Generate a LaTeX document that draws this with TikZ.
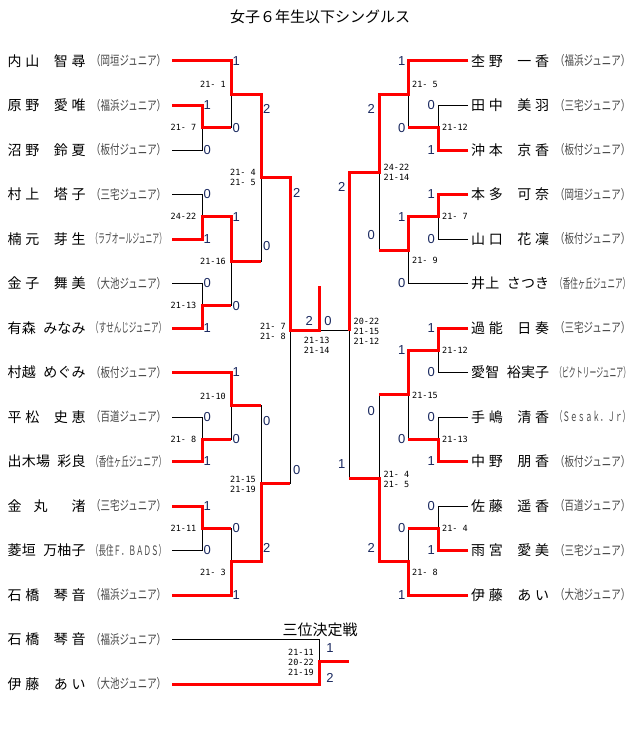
\documentclass[tikz,border=0pt]{standalone}
\usepackage{fontspec}
\usepackage{graphicx}
\setmainfont{Liberation Sans}
\newfontfamily\jpfont{Noto Sans CJK JP}
\newfontfamily\scfont{DejaVu Sans Mono}
\definecolor{scorecol}{RGB}{25,40,95}
\definecolor{clubcol}{RGB}{70,70,70}
\definecolor{winred}{RGB}{255,0,0}
\newcommand\nmgap{\hfill\hspace{7pt}\hfill}
\newcommand\clubbox[1]{\resizebox{75pt}{\height}{#1}}
\newcommand\plbox[1]{\makebox[78pt][s]{#1}}
\tikzset{
  plname/.style={anchor=west,inner sep=0pt,font=\jpfont\fontsize{14}{14}\selectfont},
  clubl/.style={anchor=west,inner sep=0pt,text=clubcol,font=\jpfont\fontsize{13}{13}\selectfont},
  ptl/.style={anchor=west,inner sep=0pt,text=scorecol,font=\fontsize{13}{13}\selectfont},
  ptr/.style={ptl,anchor=east},
  ptc/.style={ptl,anchor=center},
  gsl/.style={anchor=west,inner sep=0pt,align=left,font=\scfont\fontsize{8.5}{10}\selectfont},
  gsr/.style={gsl,anchor=east,align=right},
  gsc/.style={gsl,anchor=center,align=center},
  lose/.style={line width=0.9pt,black},
  win/.style={line width=3pt,winred},
  heading/.style={inner sep=0pt,font=\jpfont\fontsize{15}{15}\selectfont}
}
\begin{document}
\begin{tikzpicture}[x=1pt,y=-1pt]
\fill[white] (0,0) rectangle (640,741);
\useasboundingbox (0,0) rectangle (640,741);

\node[heading] (title) at (320,17) {女子６年生以下シングルス};

% row coordinates
\foreach \i/\y in {1/61,2/105.5,3/150,4/194.5,5/239,6/283.5,7/328,8/372.5,9/417,10/461.5,11/506,12/550.5,13/595}{
  \coordinate (L\i) at (172,\y);
  \coordinate (R\i) at (468,\y);
}
\coordinate (T1) at (172,639.5);
\coordinate (T2) at (172,684);

% match points left
\coordinate (LA) at (202,127.75);
\coordinate (LB) at (231,94.4);
\coordinate (LC) at (202,216.75);
\coordinate (LD) at (202,305.75);
\coordinate (LE) at (231,261.25);
\coordinate (LF) at (261,177.8);
\coordinate (LG) at (202,439.25);
\coordinate (LH) at (231,405.9);
\coordinate (LI) at (202,528.25);
\coordinate (LJ) at (231,561.6);
\coordinate (LK) at (261,483.75);
\coordinate (LL) at (290,330.8);
\coordinate (FN) at (319,330.8);
\coordinate (FT) at (319,286);
% match points right
\coordinate (RA) at (438,127.75);
\coordinate (RB) at (408,94.4);
\coordinate (RC) at (438,216.75);
\coordinate (RD) at (408,250.1);
\coordinate (RE) at (379,172.25);
\coordinate (RF) at (438,350.25);
\coordinate (RG) at (438,439.25);
\coordinate (RH) at (408,394.75);
\coordinate (RI) at (438,528.25);
\coordinate (RJ) at (408,561.6);
\coordinate (RK) at (379,478.2);
\coordinate (RL) at (349,330.8);
% third place
\coordinate (TM) at (319,661.75);
\coordinate (TE) at (349,661.75);

% black bracket lines
\draw[lose] (L1)-|(LB) (L2)-|(LA) (L3)-|(LA) (LA)-|(LB)
  (L4)-|(LC) (L5)-|(LC) (L6)-|(LD) (L7)-|(LD) (LC)-|(LE) (LD)-|(LE)
  (LB)-|(LF) (LE)-|(LF)
  (L8)-|(LH) (L9)-|(LG) (L10)-|(LG) (LG)-|(LH)
  (L11)-|(LI) (L12)-|(LI) (LI)-|(LJ) (L13)-|(LJ)
  (LH)-|(LK) (LJ)-|(LK) (LF)-|(LL) (LK)-|(LL) (LL)--(FN);
\draw[lose] (R1)-|(RB) (R2)-|(RA) (R3)-|(RA) (RA)-|(RB)
  (R4)-|(RC) (R5)-|(RC) (RC)-|(RD) (R6)-|(RD)
  (RB)-|(RE) (RD)-|(RE)
  (R7)-|(RF) (R8)-|(RF) (R9)-|(RG) (R10)-|(RG) (RF)-|(RH) (RG)-|(RH)
  (R11)-|(RI) (R12)-|(RI) (RI)-|(RJ) (R13)-|(RJ)
  (RH)-|(RK) (RJ)-|(RK) (RE)-|(RL) (RK)-|(RL) (RL)--(FN);
\draw[lose] (T1)-|(TM) (T2)-|(TM);

% red winner paths
\draw[win] (L1)-|(LB)-|(LF)-|(LL)--(FN)--(FT);
\draw[win] (L2)-|(LA)--(LA-|LB);
\draw[win] (L5)-|(LC)-|(LE)--(LE-|LF);
\draw[win] (L7)-|(LD)--(LD-|LE);
\draw[win] (L8)-|(LH)--(LH-|LK);
\draw[win] (L10)-|(LG)--(LG-|LH);
\draw[win] (L11)-|(LI)--(LI-|LJ);
\draw[win] (L13)-|(LJ)-|(LK)--(LK-|LL);
\draw[win] (R1)-|(RB)-|(RE)-|(RL);
\draw[win] (R3)-|(RA)--(RA-|RB);
\draw[win] (R4)-|(RC)-|(RD)--(RD-|RE);
\draw[win] (R7)-|(RF)-|(RH)--(RH-|RK);
\draw[win] (R10)-|(RG)--(RG-|RH);
\draw[win] (R12)-|(RI)--(RI-|RJ);
\draw[win] (R13)-|(RJ)-|(RK)--(RK-|RL);
\draw[win] (T2)-|(TM)--(TE);

% left names
\node[plname] (nL1) at (7.5,61) {\plbox{内\hfill{}山\nmgap{}智\hfill{}尋}};
\node[plname] (nL2) at (7.5,105.5) {\plbox{原\hfill{}野\nmgap{}愛\hfill{}唯}};
\node[plname] (nL3) at (7.5,150) {\plbox{沼\hfill{}野\nmgap{}鈴\hfill{}夏}};
\node[plname] (nL4) at (7.5,194.5) {\plbox{村\hfill{}上\nmgap{}塔\hfill{}子}};
\node[plname] (nL5) at (7.5,239) {\plbox{楠\hfill{}元\nmgap{}芽\hfill{}生}};
\node[plname] (nL6) at (7.5,283.5) {\plbox{金\hfill{}子\nmgap{}舞\hfill{}美}};
\node[plname] (nL7) at (7.5,328) {\plbox{有\hfill{}森\nmgap{}み\hfill{}な\hfill{}み}};
\node[plname] (nL8) at (7.5,372.5) {\plbox{村\hfill{}越\nmgap{}め\hfill{}ぐ\hfill{}み}};
\node[plname] (nL9) at (7.5,417) {\plbox{平\hfill{}松\nmgap{}史\hfill{}恵}};
\node[plname] (nL10) at (7.5,461.5) {\plbox{出\hfill{}木\hfill{}場\nmgap{}彩\hfill{}良}};
\node[plname] (nL11) at (7.5,506) {\plbox{金\hfill\hfill{}丸\hfill\hfill\hfill\hfill{}渚}};
\node[plname] (nL12) at (7.5,550.5) {\plbox{菱\hfill{}垣\nmgap{}万\hfill{}柚\hfill{}子}};
\node[plname] (nL13) at (7.5,595) {\plbox{石\hfill{}橋\nmgap{}琴\hfill{}音}};
\node[plname] (nT1) at (7.5,639.5) {\plbox{石\hfill{}橋\nmgap{}琴\hfill{}音}};
\node[plname] (nT2) at (7.5,684) {\plbox{伊\hfill{}藤\nmgap{}あ\hfill{}い}};
% left clubs
\node[clubl] (cL1) at (91,61) {\clubbox{（岡垣ジュニア）}};
\node[clubl] (cL2) at (91,105.5) {\clubbox{（福浜ジュニア）}};
\node[clubl] (cL3) at (91,150) {\clubbox{（板付ジュニア）}};
\node[clubl] (cL4) at (91,194.5) {\clubbox{（三宅ジュニア）}};
\node[clubl] (cL5) at (91,239) {\clubbox{（ラブオールジュニア）}};
\node[clubl] (cL6) at (91,283.5) {\clubbox{（大池ジュニア）}};
\node[clubl] (cL7) at (91,328) {\clubbox{（すせんじジュニア）}};
\node[clubl] (cL8) at (91,372.5) {\clubbox{（板付ジュニア）}};
\node[clubl] (cL9) at (91,417) {\clubbox{（百道ジュニア）}};
\node[clubl] (cL10) at (91,461.5) {\clubbox{（香住ヶ丘ジュニア）}};
\node[clubl] (cL11) at (91,506) {\clubbox{（三宅ジュニア）}};
\node[clubl] (cL12) at (91,550.5) {\clubbox{（長住Ｆ．ＢＡＤＳ）}};
\node[clubl] (cL13) at (91,595) {\clubbox{（福浜ジュニア）}};
\node[clubl] (cT1) at (91,639.5) {\clubbox{（福浜ジュニア）}};
\node[clubl] (cT2) at (91,684) {\clubbox{（大池ジュニア）}};

% right names
\node[plname] (nR1) at (471,61) {\plbox{杢\hfill{}野\nmgap{}一\hfill{}香}};
\node[plname] (nR2) at (471,105.5) {\plbox{田\hfill{}中\nmgap{}美\hfill{}羽}};
\node[plname] (nR3) at (471,150) {\plbox{沖\hfill{}本\nmgap{}京\hfill{}香}};
\node[plname] (nR4) at (471,194.5) {\plbox{本\hfill{}多\nmgap{}可\hfill{}奈}};
\node[plname] (nR5) at (471,239) {\plbox{山\hfill{}口\nmgap{}花\hfill{}凜}};
\node[plname] (nR6) at (471,283.5) {\plbox{井\hfill{}上\nmgap{}さ\hfill{}つ\hfill{}き}};
\node[plname] (nR7) at (471,328) {\plbox{過\hfill{}能\nmgap{}日\hfill{}奏}};
\node[plname] (nR8) at (471,372.5) {\plbox{愛\hfill{}智\nmgap{}裕\hfill{}実\hfill{}子}};
\node[plname] (nR9) at (471,417) {\plbox{手\hfill{}嶋\nmgap{}清\hfill{}香}};
\node[plname] (nR10) at (471,461.5) {\plbox{中\hfill{}野\nmgap{}朋\hfill{}香}};
\node[plname] (nR11) at (471,506) {\plbox{佐\hfill{}藤\nmgap{}遥\hfill{}香}};
\node[plname] (nR12) at (471,550.5) {\plbox{雨\hfill{}宮\nmgap{}愛\hfill{}美}};
\node[plname] (nR13) at (471,595) {\plbox{伊\hfill{}藤\nmgap{}あ\hfill{}い}};
% right clubs
\node[clubl] (cR1) at (555,61) {\clubbox{（福浜ジュニア）}};
\node[clubl] (cR2) at (555,105.5) {\clubbox{（三宅ジュニア）}};
\node[clubl] (cR3) at (555,150) {\clubbox{（板付ジュニア）}};
\node[clubl] (cR4) at (555,194.5) {\clubbox{（岡垣ジュニア）}};
\node[clubl] (cR5) at (555,239) {\clubbox{（板付ジュニア）}};
\node[clubl] (cR6) at (555,283.5) {\clubbox{（香住ヶ丘ジュニア）}};
\node[clubl] (cR7) at (555,328) {\clubbox{（三宅ジュニア）}};
\node[clubl] (cR8) at (555,372.5) {\clubbox{（ビクトリージュニア）}};
\node[clubl] (cR9) at (555,417) {\clubbox{（Ｓｅｓａｋ．Ｊｒ）}};
\node[clubl] (cR10) at (555,461.5) {\clubbox{（板付ジュニア）}};
\node[clubl] (cR11) at (555,506) {\clubbox{（百道ジュニア）}};
\node[clubl] (cR12) at (555,550.5) {\clubbox{（三宅ジュニア）}};
\node[clubl] (cR13) at (555,595) {\clubbox{（大池ジュニア）}};

% left game points
\node[ptl] (pLA1) at (203.5,105.5) {1};
\node[ptl] (pLA2) at (203.5,150) {0};
\node[ptl] (pLC1) at (203.5,194.5) {0};
\node[ptl] (pLC2) at (203.5,239) {1};
\node[ptl] (pLD1) at (203.5,283.5) {0};
\node[ptl] (pLD2) at (203.5,328) {1};
\node[ptl] (pLG1) at (203.5,417) {0};
\node[ptl] (pLG2) at (203.5,461.5) {1};
\node[ptl] (pLI1) at (203.5,506) {1};
\node[ptl] (pLI2) at (203.5,550.5) {0};
\node[ptl] (pLB1) at (232.5,61) {1};
\node[ptl] (pLB2) at (232.5,127.75) {0};
\node[ptl] (pLE1) at (232.5,216.75) {1};
\node[ptl] (pLE2) at (232.5,305.75) {0};
\node[ptl] (pLH1) at (232.5,372.5) {1};
\node[ptl] (pLH2) at (232.5,439.25) {0};
\node[ptl] (pLJ1) at (232.5,528.25) {0};
\node[ptl] (pLJ2) at (232.5,595) {1};
\node[ptl] (pLF1) at (263,109.4) {2};
\node[ptl] (pLF2) at (263,246.25) {0};
\node[ptl] (pLK1) at (263,420.9) {0};
\node[ptl] (pLK2) at (263,547.6) {2};
\node[ptl] (pLL1) at (293,192.8) {2};
\node[ptl] (pLL2) at (293,469.75) {0};
\node[ptc] (pF1) at (309.3,320.7) {2};
\node[ptc] (pF2) at (328,320.7) {0};
% right game points
\node[ptr] (pRA1) at (435,105.5) {0};
\node[ptr] (pRA2) at (435,150) {1};
\node[ptr] (pRC1) at (435,194.5) {1};
\node[ptr] (pRC2) at (435,239) {0};
\node[ptr] (pRF1) at (435,328) {1};
\node[ptr] (pRF2) at (435,372.5) {0};
\node[ptr] (pRG1) at (435,417) {0};
\node[ptr] (pRG2) at (435,461.5) {1};
\node[ptr] (pRI1) at (435,506) {0};
\node[ptr] (pRI2) at (435,550.5) {1};
\node[ptr] (pRB1) at (405.5,61) {1};
\node[ptr] (pRB2) at (405.5,127.75) {0};
\node[ptr] (pRD1) at (405.5,216.75) {1};
\node[ptr] (pRD2) at (405.5,283.5) {0};
\node[ptr] (pRH1) at (405.5,350.25) {1};
\node[ptr] (pRH2) at (405.5,439.25) {0};
\node[ptr] (pRJ1) at (405.5,528.25) {0};
\node[ptr] (pRJ2) at (405.5,595) {1};
\node[ptr] (pRE1) at (375,109.4) {2};
\node[ptr] (pRE2) at (375,235.1) {0};
\node[ptr] (pRK1) at (375,410.75) {0};
\node[ptr] (pRK2) at (375,548.1) {2};
\node[ptr] (pRL1) at (345.5,186.75) {2};
\node[ptr] (pRL2) at (345.5,464.2) {1};
% third place points
\node[ptc] (pT1) at (330,647.7) {1};
\node[ptc] (pT2) at (330,678.3) {2};

% left game scores
\node[gsr] (gLA) at (196.5,127.75) {21- 7};
\node[gsr] (gLC) at (196.5,216.75) {24-22};
\node[gsr] (gLD) at (196.5,305.75) {21-13};
\node[gsr] (gLG) at (196.5,439.25) {21- 8};
\node[gsr] (gLI) at (196.5,528.25) {21-11};
\node[gsr] (gLB) at (226,84.7) {21- 1};
\node[gsr] (gLE) at (226,261.5) {21-16};
\node[gsr] (gLH) at (226,396) {21-10};
\node[gsr] (gLJ) at (226,572.7) {21- 3};
\node[gsr] (gLF) at (256,177.4) {21- 4\\21- 5};
\node[gsr] (gLK) at (256,484.2) {21-15\\21-19};
\node[gsr] (gLL) at (286,331.2) {21- 7\\21- 8};
\node[gsc] (gFN) at (316.7,345.7) {21-13\\21-14};
% right game scores
\node[gsl] (gRL) at (353.5,331.6) {20-22\\21-15\\21-12};
\node[gsl] (gRE) at (383.5,172.5) {24-22\\21-14};
\node[gsl] (gRK) at (383.5,479) {21- 4\\21- 5};
\node[gsl] (gRB) at (412,84.3) {21- 5};
\node[gsl] (gRD) at (412,260.7) {21- 9};
\node[gsl] (gRH) at (412,395.7) {21-15};
\node[gsl] (gRJ) at (412,572.7) {21- 8};
\node[gsl] (gRA) at (442,127.5) {21-12};
\node[gsl] (gRC) at (442,216.5) {21- 7};
\node[gsl] (gRF) at (442,350.5) {21-12};
\node[gsl] (gRG) at (442,439.3) {21-13};
\node[gsl] (gRI) at (442,528.3) {21- 4};
% third place
\node[heading] (third) at (320,630) {三位決定戦};
\node[gsr] (gTM) at (314,662.7) {21-11\\20-22\\21-19};
\end{tikzpicture}
\end{document}
